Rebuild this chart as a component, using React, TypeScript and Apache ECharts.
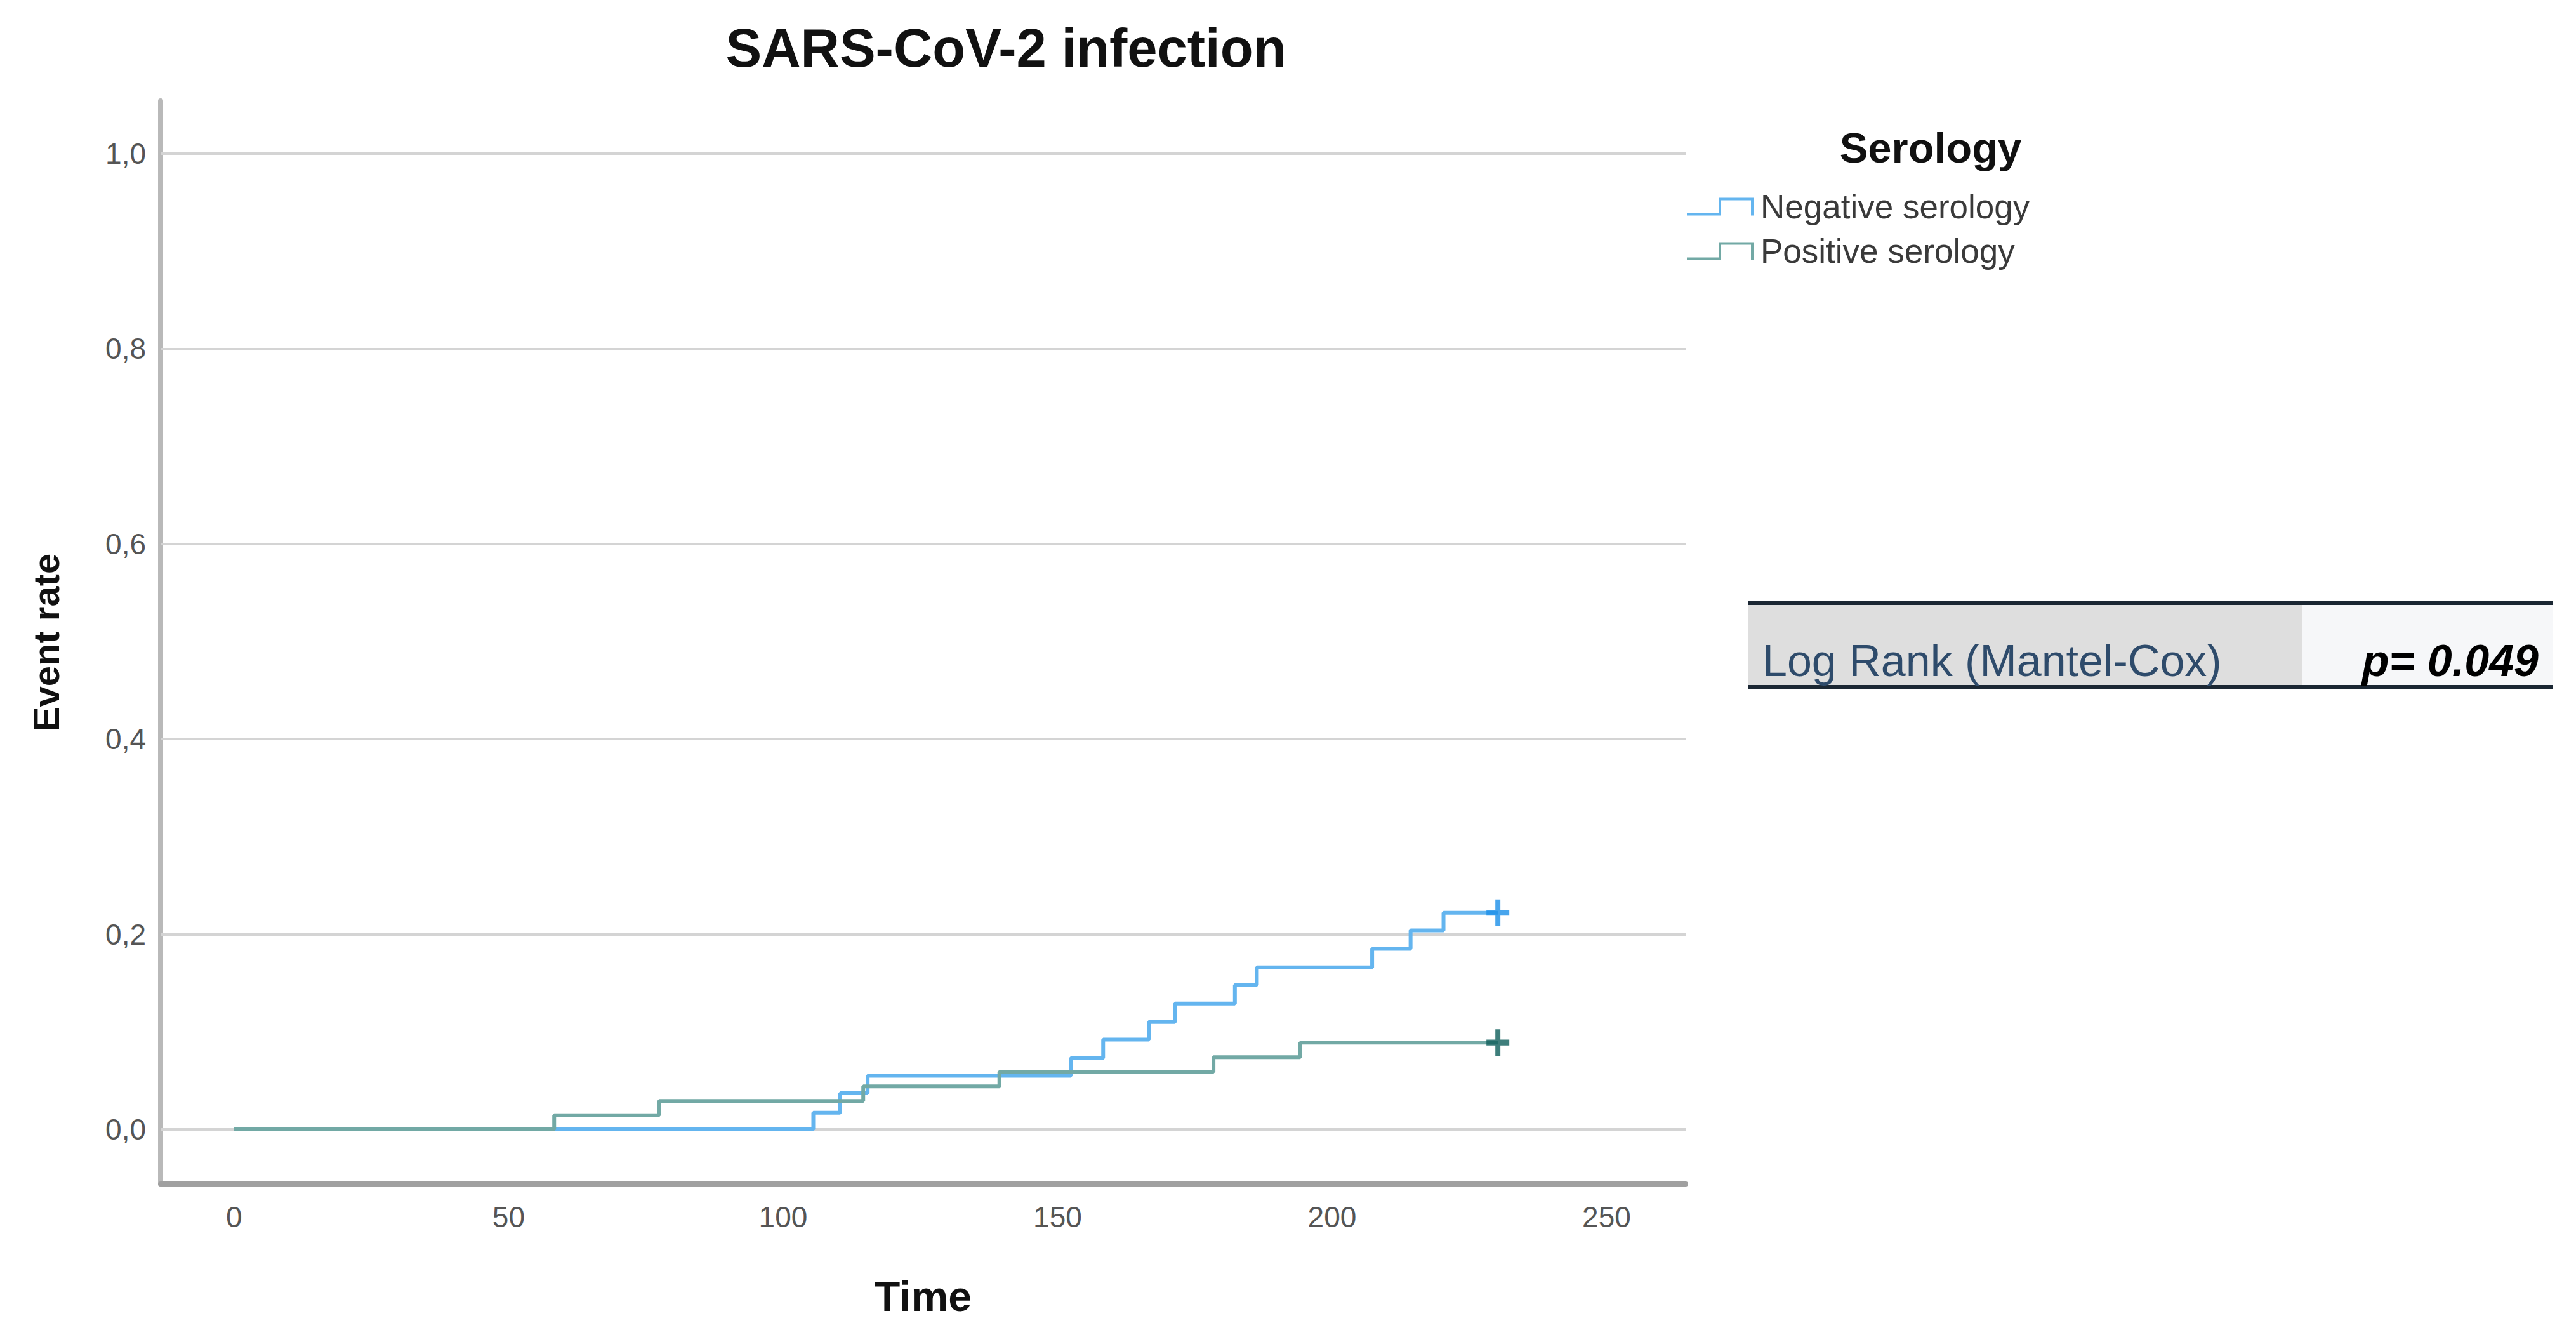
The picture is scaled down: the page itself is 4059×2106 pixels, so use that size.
import { useEffect, useRef } from "react";
import * as echarts from "echarts";

const FONT = '"Liberation Sans", Arial, sans-serif';

// Kaplan-Meier steps (time, cumulative event rate)
const negTimes = [0, 105.5, 110.4, 115.4, 152.4, 158.3, 166.6, 171.4, 182.3, 186.3, 207.3, 214.3, 220.3, 230.2];
const negRates = [0, 0.017, 0.037, 0.055, 0.073, 0.092, 0.11, 0.129, 0.148, 0.166, 0.185, 0.204, 0.222, 0.222];
const posTimes = [0, 58.3, 77.4, 114.6, 139.4, 178.4, 194.2, 230.2];
const posRates = [0, 0.0145, 0.029, 0.044, 0.059, 0.074, 0.089, 0.089];

// censored observations
const negCensor = [[230.2, 0.222]];
const posCensor = [[230.2, 0.089]];

const seriesNames = ["Negative serology", "Positive serology"];
const xTicks = [0, 50, 100, 150, 200, 250];
const yTicks = [0, 0.2, 0.4, 0.6, 0.8, 1.0];

const PLUS = "path://M-1,-0.22H-0.22V-1H0.22V-0.22H1V0.22H0.22V1H-0.22V0.22H-1Z";
const STEP_ICON = "path://M0,24H50V0H105V28H101V4H54V28H0Z";

const pairs = (xs: number[], ys: number[]) => xs.map((x, i) => [x, ys[i]]);

export default function App() {
  const chartRef = useRef<HTMLDivElement>(null);

  useEffect(() => {
    const chart = echarts.init(chartRef.current, null, { renderer: "svg" });
    chart.setOption({
      animation: false,
      backgroundColor: "#ffffff",
      title: [
        {
          text: "SARS-CoV-2 infection",
          left: 1580,
          top: 70,
          textAlign: "center",
          textVerticalAlign: "middle",
          textStyle: { fontFamily: FONT, fontSize: 85, fontWeight: "bold", color: "#111" },
        },
        {
          text: "Serology",
          left: 3037,
          top: 227,
          textAlign: "center",
          textVerticalAlign: "middle",
          textStyle: { fontFamily: FONT, fontSize: 67, fontWeight: "bold", color: "#111" },
        },
      ],
      legend: {
        data: seriesNames,
        orient: "vertical",
        left: 2653,
        top: 294,
        icon: STEP_ICON,
        itemWidth: 105,
        itemHeight: 28,
        itemGap: 17,
        itemStyle: { borderWidth: 0 },
        textStyle: {
          fontFamily: FONT,
          fontSize: 53,
          lineHeight: 53,
          color: "#3a3a3a",
          padding: [0, 0, 0, 6],
        },
      },
      grid: { left: 253, right: 1403, top: 159, bottom: 241, outerBoundsMode: "none" },
      xAxis: {
        type: "value",
        min: -13.4,
        max: 264.4,
        name: "Time",
        nameLocation: "middle",
        nameGap: 144,
        nameTextStyle: { fontFamily: FONT, fontSize: 66, fontWeight: "bold", color: "#111" },
        axisLine: { show: true, onZero: false, lineStyle: { color: "#a0a0a0", width: 8 } },
        axisTick: { show: false, customValues: xTicks },
        axisLabel: {
          customValues: xTicks,
          margin: 29,
          fontFamily: FONT,
          fontSize: 46,
          color: "#555",
        },
        splitLine: { show: false },
      },
      yAxis: {
        type: "value",
        min: -0.056,
        max: 1.054,
        name: "Event rate",
        nameLocation: "middle",
        nameGap: 152,
        nameRotate: 90,
        nameTextStyle: { fontFamily: FONT, fontSize: 58, fontWeight: "bold", color: "#111" },
        axisLine: { show: true, onZero: false, lineStyle: { color: "#b9b9b9", width: 8 } },
        axisTick: { show: false, customValues: yTicks },
        axisLabel: {
          customValues: yTicks,
          margin: 23,
          fontFamily: FONT,
          fontSize: 46,
          color: "#555",
          formatter: (v: number) => v.toFixed(1).replace(".", ","),
        },
        splitLine: { show: false },
      },
      series: [
        {
          name: "gridlines",
          type: "line",
          data: [],
          z: 1,
          silent: true,
          markLine: {
            z: 1,
            silent: true,
            symbol: ["none", "none"],
            label: { show: false },
            lineStyle: { color: "#d4d4d4", width: 4, type: "solid" },
            emphasis: { disabled: true },
            data: yTicks.map((v) => ({ yAxis: v })),
          },
        },
        {
          name: seriesNames[0],
          type: "line",
          step: "end",
          data: pairs(negTimes, negRates),
          showSymbol: false,
          symbol: "none",
          color: "#64b5ef",
          lineStyle: { color: "#64b5ef", width: 6 },
          z: 2,
        },
        {
          name: seriesNames[1],
          type: "line",
          step: "end",
          data: pairs(posTimes, posRates),
          showSymbol: false,
          symbol: "none",
          color: "#72a9a5",
          lineStyle: { color: "#72a9a5", width: 6 },
          z: 3,
        },
        {
          name: "neg censored",
          type: "scatter",
          data: negCensor,
          symbol: PLUS,
          symbolSize: [36, 42],
          itemStyle: { color: "#1a8fe8" },
          z: 4,
        },
        {
          name: "pos censored",
          type: "scatter",
          data: posCensor,
          symbol: PLUS,
          symbolSize: [36, 42],
          itemStyle: { color: "#0e5e5a" },
          z: 4,
        },
      ],
      graphic: [
        { type: "rect", shape: { x: 2754, y: 952, width: 874, height: 128 }, style: { fill: "#dedede" } },
        { type: "rect", shape: { x: 3628, y: 952, width: 395, height: 128 }, style: { fill: "#f6f7f9" } },
        { type: "rect", shape: { x: 2754, y: 947, width: 1269, height: 6 }, style: { fill: "#1b2733" } },
        { type: "rect", shape: { x: 2754, y: 1079, width: 1269, height: 6 }, style: { fill: "#1b2733" } },
        {
          type: "text",
          x: 2777,
          y: 1041,
          style: {
            text: "Log Rank (Mantel-Cox)",
            fontFamily: FONT,
            fontSize: 70,
            fill: "#2e4b6b",
            align: "left",
            verticalAlign: "middle",
          },
        },
        {
          type: "text",
          x: 4000,
          y: 1041,
          style: {
            text: "p= 0.049",
            fontFamily: FONT,
            fontSize: 70,
            fontWeight: "bold",
            fontStyle: "italic",
            fill: "#000",
            align: "right",
            verticalAlign: "middle",
          },
        },
      ],
    });
    return () => {
      chart.dispose();
    };
  }, []);

  return (
    <div
      ref={chartRef}
      style={{ position: "absolute", left: 0, top: 0, width: "4059px", height: "2106px" }}
    ></div>
  );
}
